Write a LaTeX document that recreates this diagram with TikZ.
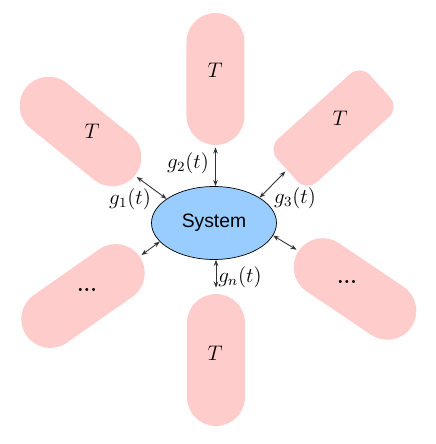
\documentclass[tikz,border=0pt]{standalone}
\usepackage{fontspec}
\newfontfamily\sysfont{Liberation Sans}
\usetikzlibrary{arrows.meta, shapes.geometric, calc}
\definecolor{syblue}{HTML}{99CCFF}
\definecolor{tpink}{HTML}{FFCCCC}
\definecolor{lkgray}{HTML}{333333}

\begin{document}
\begin{tikzpicture}[
  every node/.style={font=\large},
  sysbox/.style={ellipse, draw, thin, fill=syblue, minimum width=2.5cm, minimum height=1.46cm, font=\fontsize{11}{13}\sysfont},
  capsule/.style={rectangle, fill=tpink, minimum width=2.76cm, minimum height=1.16cm, rounded corners=0.58cm},
  link/.style={{Stealth[length=3.5pt,width=2.6pt]}-{Stealth[length=3.5pt,width=2.6pt]}, draw=lkgray, line width=0.5pt, shorten >=0.04cm},
]
\useasboundingbox (-4.28,-4.42) rectangle (4.44,4.46);

\node[sysbox] (sys) at (0, 0) {System};

\node[capsule, minimum width=2.64cm, rotate=-90] (top) at (0.03, 2.88) {};
\node[capsule, minimum width=2.64cm, rotate=90] (bot) at (0.04, -2.74) {};
\node[capsule, minimum width=2.8cm, rotate=-39] (ul) at (-2.67, 1.83) {};
\node[capsule, minimum width=2.5cm, rounded corners=0.28cm, rotate=222] (ur) at (2.39, 1.90) {};
\node[capsule, rotate=35] (ll) at (-2.62, -1.46) {};
\node[capsule, minimum width=2.72cm, rotate=146] (lr) at (2.82, -1.32) {};

\node (ttop) at (0.02, 3.06) {$T$};
\node (tbot) at (0.02, -2.60) {$T$};
\node (tul) at (-2.44, 1.84) {$T$};
\node (tur) at (2.52, 2.10) {$T$};
\node (dll) at (-2.54, -1.34) {\textbf{...}};
\node (dlr) at (2.66, -1.18) {\textbf{...}};

\draw[link] (sys.153) -- (ul.east);
\draw[link] (top.east |- sys.north) -- (top.east);
\draw[link] (sys.29) -- (ur.east);
\draw[link] (sys.199) -- (ll.east);
\draw[link] (sys.348) -- (lr.east);
\draw[link, shorten >=0.12cm] (bot.east |- sys.south) -- (bot.east);

\node (g1) at (-1.68, 0.48) {$g_1(t)$};
\node (g2) at (-0.52, 1.20) {$g_2(t)$};
\node (g3) at (1.62, 0.50) {$g_3(t)$};
\node (gn) at (0.52, -1.08) {$g_n(t)$};
\end{tikzpicture}
\end{document}
